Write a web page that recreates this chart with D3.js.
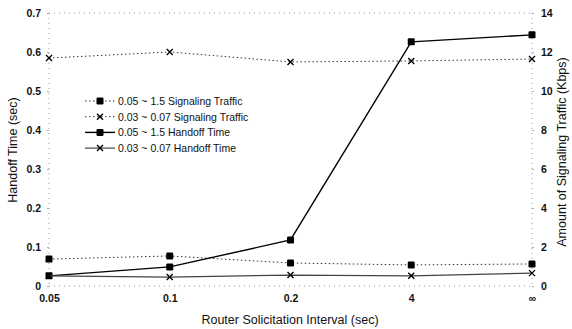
<!DOCTYPE html>
<html><head><meta charset="utf-8">
<script src="https://cdn.jsdelivr.net/npm/d3@7"></script>
<style>body{margin:0;background:#fff}svg{display:block}text{font-family:"Liberation Sans",Arial,sans-serif;fill:#111}</style>
</head><body><svg id="c" width="572" height="329"></svg>
<script>
const categories = ["0.05","0.1","0.2","4","∞"];
const handoffA = [0.026,0.049,0.118,0.626,0.644];   // 0.05 ~ 1.5 Handoff Time
const handoffB = [0.026,0.023,0.028,0.026,0.033];   // 0.03 ~ 0.07 Handoff Time
const signalA = [1.38,1.54,1.18,1.08,1.13];         // 0.05 ~ 1.5 Signaling Traffic (Kbps)
const signalB = [11.69,12.0,11.49,11.54,11.64];     // 0.03 ~ 0.07 Signaling Traffic (Kbps)
const leftTicks = [0,0.1,0.2,0.3,0.4,0.5,0.6,0.7];
const rightTicks = [0,2,4,6,8,10,12,14];
const legendLabels = ["0.05 ~ 1.5 Signaling Traffic","0.03 ~ 0.07 Signaling Traffic","0.05 ~ 1.5 Handoff Time","0.03 ~ 0.07 Handoff Time"];

const svg = d3.select("#c");
const L=49,R=532,T=13,B=286;
const x = d3.scalePoint().domain(categories).range([L,R]).padding(0);
const yL = d3.scaleLinear().domain([0,0.7]).range([B,T]);
const yR = d3.scaleLinear().domain([0,14]).range([B,T]);

// dotted frame
const frame = svg.append("g").attr("stroke","#999").attr("stroke-width",1).attr("stroke-dasharray","1,4").attr("fill","none");
frame.append("line").attr("x1",L).attr("x2",R).attr("y1",T).attr("y2",T);
frame.append("line").attr("x1",L).attr("x2",R).attr("y1",B).attr("y2",B);
frame.append("line").attr("x1",L).attr("x2",L).attr("y1",T).attr("y2",B);
frame.append("line").attr("x1",R).attr("x2",R).attr("y1",T).attr("y2",B);

// axes
const axL = svg.append("g").attr("transform",`translate(${L},0)`)
  .call(d3.axisLeft(yL).tickValues(leftTicks).tickSize(2).tickFormat(d=>d===0?"0":d3.format(".1f")(d)));
const axR = svg.append("g").attr("transform",`translate(${R},0)`)
  .call(d3.axisRight(yR).tickValues(rightTicks).tickSize(2).tickFormat(d3.format("d")));
const axB = svg.append("g").attr("transform",`translate(0,${B})`)
  .call(d3.axisBottom(x).tickSize(0).tickPadding(9));
[axL,axR,axB].forEach(a=>{a.select(".domain").remove();a.selectAll(".tick line").attr("stroke","#aaa");
  a.selectAll("text").style("font-size","10.5px").style("font-weight","bold").attr("fill","#111");});
axL.selectAll("text").attr("x",-8);
axR.selectAll("text").attr("x",9);

// titles
svg.append("text").attr("transform","translate(17,150) rotate(-90)").attr("text-anchor","middle").style("font-size","12.5px").text("Handoff Time (sec)");
svg.append("text").attr("transform","translate(566,152) rotate(-90)").attr("text-anchor","middle").style("font-size","12.5px").text("Amount of Signaling Traffic (Kbps)");
svg.append("text").attr("x",290).attr("y",324).attr("text-anchor","middle").style("font-size","12.5px").text("Router Solicitation Interval (sec)");

const series = [
  {vals:signalA, y:yR, dash:"1.5,2.5", w:1, color:"#333", mark:"sq"},
  {vals:signalB, y:yR, dash:"1.5,2.5", w:1, color:"#333", mark:"x"},
  {vals:handoffA, y:yL, dash:null, w:1.4, color:"#000", mark:"sq"},
  {vals:handoffB, y:yL, dash:null, w:1.2, color:"#444", mark:"x"}
];
function drawMark(g,cx,cy,m){
  if(m==="sq") g.append("rect").attr("x",cx-3.5).attr("y",cy-3.5).attr("width",7).attr("height",7).attr("rx",1.2).attr("fill","#000");
  else g.append("path").attr("d",`M${cx-3},${cy-3}L${cx+3},${cy+3}M${cx-3},${cy+3}L${cx+3},${cy-3}`).attr("stroke","#000").attr("stroke-width",1.4).attr("fill","none");
}
series.forEach(s=>{
  const line = d3.line().x((d,i)=>x(categories[i])).y(d=>s.y(d));
  svg.append("path").datum(s.vals).attr("d",line).attr("fill","none").attr("stroke",s.color)
    .attr("stroke-width",s.w).attr("stroke-dasharray",s.dash);
  const g = svg.append("g");
  s.vals.forEach((v,i)=>drawMark(g,x(categories[i]),s.y(v),s.mark));
});

// legend
const lg = svg.append("g");
legendLabels.forEach((lab,i)=>{
  const s = series[i], yy = 101 + i*15.7;
  lg.append("line").attr("x1",85).attr("x2",115).attr("y1",yy).attr("y2",yy).attr("stroke",s.color)
    .attr("stroke-width",s.w).attr("stroke-dasharray",s.dash);
  drawMark(lg,100,yy,s.mark);
  lg.append("text").attr("x",118).attr("y",yy+4).style("font-size","10.5px").text(lab);
});
</script></body></html>
